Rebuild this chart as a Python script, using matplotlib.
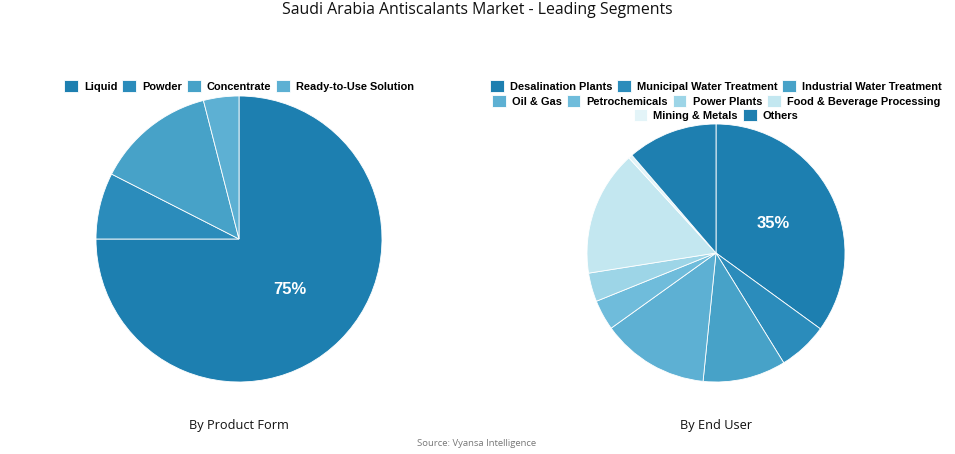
import matplotlib.pyplot as plt

# data
form_labels = ['Liquid', 'Powder', 'Concentrate', 'Ready-to-Use Solution']
form_values = [75, 7.5, 13.5, 4]
form_colors = ['#1d7fb0', '#2b8cbb', '#47a2c8', '#5db0d3']

user_labels = ['Desalination Plants', 'Municipal Water Treatment', 'Industrial Water Treatment',
               'Oil & Gas', 'Petrochemicals', 'Power Plants', 'Food & Beverage Processing',
               'Mining & Metals', 'Others']
user_values = [35, 6.2, 10.4, 13.5, 3.8, 3.6, 15.7, 0.5, 11.3]
user_colors = ['#1d7fb0', '#2b8cbb', '#47a2c8', '#5db0d3', '#6fbcdb',
               '#9dd5e7', '#c3e7f0', '#e3f4f8', '#1e7fb0']

W, H = 955, 454
fig = plt.figure(figsize=(W / 100, H / 100), dpi=100)
fig.patch.set_facecolor('white')


def pie_axes(cx, cy, r):
    # cx, cy in pixels from top-left
    return fig.add_axes([(cx - r) / W, (H - cy - r) / H, 2 * r / W, 2 * r / H])


def draw_pie(ax, values, colors):
    total = sum(values)
    biggest = max(values)
    wedges, _, autotexts = ax.pie(
        values, colors=colors, startangle=90, counterclock=False,
        autopct=lambda p: f'{p:.0f}%' if abs(p - biggest / total * 100) < 1e-6 else '',
        pctdistance=0.5, wedgeprops=dict(edgecolor='white', linewidth=0.6),
        textprops=dict(color='white', fontsize=12, fontweight='bold', family='Liberation Sans'))
    ax.set_xlim(-1, 1)
    ax.set_ylim(-1, 1)
    ax.set_aspect('equal')
    ax.axis('off')
    return wedges


ax1 = pie_axes(239, 239, 143)
w1 = draw_pie(ax1, form_values, form_colors)
ax2 = pie_axes(716, 253, 129)
w2 = draw_pie(ax2, user_values, user_colors)

leg_kw = dict(frameon=False, loc='center', handlelength=1.25, handleheight=1.25,
              handletextpad=0.55, columnspacing=0.45, borderpad=0,
              prop=dict(family='Liberation Sans', weight='bold', size=7.9))


def row_legend(handles, labels, cx, cy):
    fig.legend(handles, labels, ncol=len(handles), bbox_to_anchor=(cx / W, 1 - cy / H), **leg_kw)


row_legend(w1, form_labels, 239, 86)
row_legend(w2[0:3], user_labels[0:3], 716, 86)
row_legend(w2[3:7], user_labels[3:7], 716, 101)
row_legend(w2[7:9], user_labels[7:9], 716, 115)

fig.text(477 / W, 1 - 10 / H, 'Saudi Arabia Antiscalants Market - Leading Segments',
         ha='center', va='center', fontsize=11.4, family='Open Sans', color='#111111')
fig.text(239 / W, 1 - 425 / H, 'By Product Form', ha='center', va='center',
         fontsize=9.2, family='Open Sans', color='#111111')
fig.text(716 / W, 1 - 425 / H, 'By End User', ha='center', va='center',
         fontsize=9.2, family='Open Sans', color='#111111')
fig.text(477 / W, 1 - 444 / H, 'Source: Vyansa Intelligence', ha='center', va='center',
         fontsize=6.8, family='Open Sans', color='#777777')

fig.savefig('out.png', dpi=100)
